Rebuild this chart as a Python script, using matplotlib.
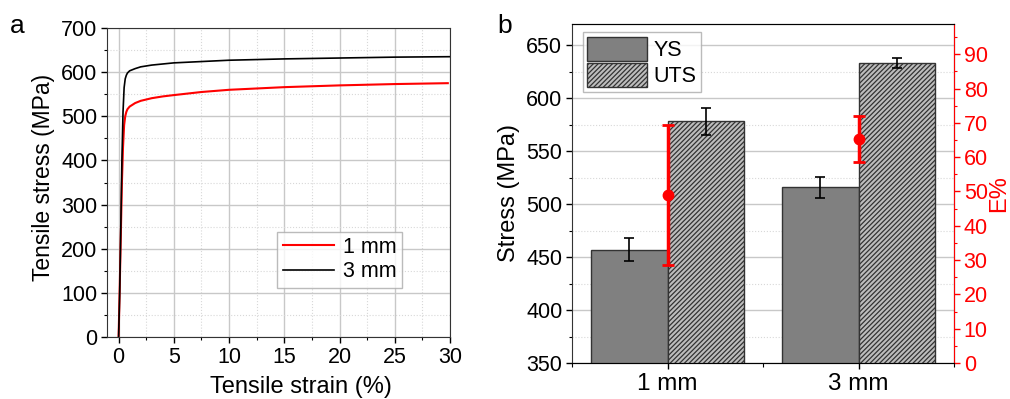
import matplotlib
matplotlib.use("Agg")
import matplotlib.pyplot as plt
import numpy as np
from matplotlib.ticker import MultipleLocator
from matplotlib.patches import Patch

plt.rcParams['font.family'] = ['Liberation Sans', 'DejaVu Sans']
plt.rcParams['hatch.linewidth'] = 0.9

# Panel a data
strain_1mm = [0, 0.1, 0.2, 0.3, 0.4, 0.5, 0.6, 0.7, 0.8, 1.0, 1.5, 2, 3, 4, 5, 7.5, 10, 15, 20, 25, 29.8]
stress_1mm = [0, 110, 230, 350, 430, 480, 500, 510, 516, 522, 530, 535, 541, 545, 548, 555, 560, 566, 570, 573, 575]
strain_3mm = [0, 0.1, 0.2, 0.3, 0.4, 0.5, 0.6, 0.7, 0.8, 1.0, 1.5, 2, 3, 5, 10, 15, 20, 25, 30]
stress_3mm = [0, 100, 250, 400, 510, 565, 585, 593, 598, 603, 608, 612, 616, 621, 627, 630, 632, 634, 635]

# Panel b data
categories = ['1 mm', '3 mm']
ys = [457, 516]
ys_err = [11, 10]
uts = [578, 633]
uts_err = [13, 5]
elong = [49, 65.2]
elong_err = [20.5, 6.7]

TS = 15.5
LS = 17

fig = plt.figure(figsize=(10.10, 3.99), dpi=100)
W, H = 1010, 399

# ---- panel a ----
ax = fig.add_axes([107/W, 1-337/H, (450-107)/W, (337-28)/H])
ax.plot(strain_1mm, stress_1mm, color='red', lw=1.5, label='1 mm')
ax.plot(strain_3mm, stress_3mm, color='black', lw=1.2, label='3 mm')
ax.set_xlim(-1.05, 30)
ax.set_ylim(0, 700)
ax.xaxis.set_major_locator(MultipleLocator(5))
ax.xaxis.set_minor_locator(MultipleLocator(2.5))
ax.yaxis.set_major_locator(MultipleLocator(100))
ax.yaxis.set_minor_locator(MultipleLocator(50))
ax.grid(which='major', color='#c8c8c8', lw=1.0)
ax.grid(which='minor', color='#d8d8d8', lw=0.8, ls=':')
ax.set_axisbelow(True)
ax.tick_params(which='major', direction='out', length=4, width=1, labelsize=TS, colors='black', pad=3)
ax.tick_params(which='minor', direction='out', length=2, width=0.8)
for s in ax.spines.values():
    s.set_color('#333333')
ax.set_xlabel('Tensile strain (%)', fontsize=LS)
ax.xaxis.set_label_coords((301-107)/343, -(393-337)/309, transform=ax.transAxes)
ax.xaxis.label.set_va('baseline')
ax.set_ylabel('Tensile stress (MPa)', fontsize=16.5)
ax.yaxis.set_label_coords(-(107-55)/343, (337-177)/309, transform=ax.transAxes)
leg = ax.legend(loc='lower right', bbox_to_anchor=(0.86, 0.16), fontsize=TS, frameon=True,
                fancybox=False, edgecolor='#aaaaaa', handlelength=2.4, borderpad=0.25,
                labelspacing=0.15, handletextpad=0.4, borderaxespad=0)
leg.get_frame().set_linewidth(1.0)
fig.text(10/W, 1-26/H, 'a', fontsize=19, va='center')

# ---- panel b ----
bx = fig.add_axes([572/W, 1-363/H, (954-572)/W, (363-24)/H])
x = np.arange(len(categories))
w = 0.4
bx.bar(x - w/2, ys, w, color='#808080', edgecolor='#333333', lw=1.0, zorder=2)
bx.bar(x + w/2, uts, w, color='#bdbdbd', edgecolor='#333333', hatch='///////', lw=1.0, zorder=2)
bx.errorbar(x - w/2, ys, yerr=ys_err, fmt='none', ecolor='black', elinewidth=1.2, capsize=3.5, capthick=1.2, zorder=3)
bx.errorbar(x + w/2, uts, yerr=uts_err, fmt='none', ecolor='black', elinewidth=1.2, capsize=3.5, capthick=1.2, zorder=3)
bx.set_ylim(350, 670)
bx.set_xlim(-0.5, 1.5)
bx.set_xticks(x)
bx.set_xticklabels(categories)
bx.xaxis.set_minor_locator(MultipleLocator(0.5))
bx.yaxis.set_major_locator(MultipleLocator(50))
bx.yaxis.set_minor_locator(MultipleLocator(25))
bx.grid(axis='y', which='major', color='#c8c8c8', lw=1.0)
bx.grid(axis='y', which='minor', color='#d8d8d8', lw=0.8, ls=':')
bx.set_axisbelow(True)
bx.tick_params(which='major', direction='out', length=4, width=1, labelsize=TS, pad=3)
bx.tick_params(axis='x', which='major', labelsize=17.5, pad=3)
bx.tick_params(which='minor', direction='out', length=2, width=0.8)
bx.tick_params(axis='x', which='minor', length=3)
bx.set_ylabel('Stress (MPa)', fontsize=LS, labelpad=4)
for s in ['left', 'bottom', 'top']:
    bx.spines[s].set_color('#333333')

rx = bx.twinx()
rx.errorbar(x, elong, yerr=elong_err, fmt='o', color='red', ms=7.5, elinewidth=2.5, capsize=4, capthick=2, zorder=4)
rx.set_ylim(0, 98.8)
rx.yaxis.set_minor_locator(MultipleLocator(5))
rx.set_yticks(np.arange(0, 91, 10))
rx.tick_params(which='major', direction='out', length=4, width=1, labelsize=TS, colors='red', pad=3)
rx.tick_params(which='minor', direction='out', length=2, width=0.8, colors='red')
rx.spines['right'].set_color('red')
rx.spines['left'].set_visible(False)
rx.set_ylabel('E%', fontsize=LS, color='red', labelpad=0)

handles = [Patch(facecolor='#808080', edgecolor='#333333', label='YS'),
           Patch(facecolor='#bdbdbd', edgecolor='#333333', hatch='///////', label='UTS')]
leg2 = bx.legend(handles=handles, loc='upper left', bbox_to_anchor=(0.028, 0.975), fontsize=TS,
                 frameon=True, fancybox=False, edgecolor='#aaaaaa', handlelength=2.8, handleheight=1.35,
                 borderpad=0.2, labelspacing=0.1, handletextpad=0.3, borderaxespad=0)
leg2.get_frame().set_linewidth(1.0)
fig.text(497/W, 1-26/H, 'b', fontsize=19, va='center')

fig.savefig('out.png', dpi=100)
